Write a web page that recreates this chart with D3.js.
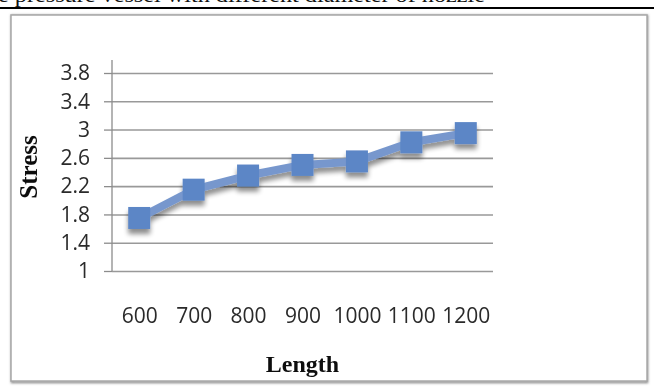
<!DOCTYPE html>
<html>
<head>
<meta charset="utf-8">
<script src="https://cdn.jsdelivr.net/npm/d3@7"></script>
<style>
  html, body { margin: 0; padding: 0; background: #fff; }
  svg { display: block; }
</style>
</head>
<body>
<svg id="chart" width="654" height="391"></svg>
<script>
// Stress against nozzle length
const lengths = ["600", "700", "800", "900", "1000", "1100", "1200"];
const stress = [1.75, 2.15, 2.35, 2.5, 2.55, 2.82, 2.95];
const yTicks = [1, 1.4, 1.8, 2.2, 2.6, 3, 3.4, 3.8];
const caption = "e pressure vessel with different diameter of nozzle";

const svg = d3.select("#chart");
const defs = svg.append("defs");

const shadow = defs.append("filter").attr("id", "markShadow")
  .attr("x", "-50%").attr("y", "-50%").attr("width", "200%").attr("height", "220%");
shadow.append("feGaussianBlur").attr("in", "SourceAlpha").attr("stdDeviation", 2.4).attr("result", "b");
shadow.append("feOffset").attr("in", "b").attr("dx", 0).attr("dy", 5).attr("result", "o");
shadow.append("feComponentTransfer").attr("in", "o").attr("result", "s")
  .append("feFuncA").attr("type", "linear").attr("slope", 0.45);
const m = shadow.append("feMerge");
m.append("feMergeNode").attr("in", "s");
m.append("feMergeNode").attr("in", "SourceGraphic");

const soft = defs.append("filter").attr("id", "soft");
soft.append("feGaussianBlur").attr("stdDeviation", 0.7);

const textSoft = defs.append("filter").attr("id", "textSoft");
textSoft.append("feGaussianBlur").attr("stdDeviation", 0.35);

const boxShadow = defs.append("filter").attr("id", "boxShadow")
  .attr("x", "-5%").attr("y", "-5%").attr("width", "110%").attr("height", "110%");
boxShadow.append("feGaussianBlur").attr("stdDeviation", 1.2);

// caption line cut at the top, and the rule below it
svg.append("text")
  .attr("x", -2).attr("y", 1.5)
  .attr("font-family", "Liberation Serif, serif")
  .attr("font-size", 20)
  .attr("textLength", 487)
  .attr("lengthAdjust", "spacingAndGlyphs")
  .attr("fill", "#111")
  .text(caption);
svg.append("rect").attr("x", 0).attr("y", 7).attr("width", 654).attr("height", 2).attr("fill", "#000");

// chart frame
svg.append("rect")
  .attr("x", 12).attr("y", 16).attr("width", 635).attr("height", 366)
  .attr("fill", "none").attr("stroke", "#8a8a8a").attr("stroke-width", 2.5)
  .attr("filter", "url(#boxShadow)");
svg.append("rect")
  .attr("x", 11).attr("y", 15).attr("width", 636).attr("height", 366)
  .attr("fill", "#fff").attr("stroke", "#a8a8a8").attr("stroke-width", 1.5);

const plotL = 112, plotR = 493, plotT = 73, plotB = 271;

const x = d3.scalePoint().domain(lengths).range([plotL, plotR]).padding(0.5);
const y = d3.scaleLinear().domain([1, 3.8]).range([plotB, plotT]);

// horizontal gridlines with outside ticks
const yAxis = svg.append("g")
  .attr("transform", `translate(${plotL},0)`)
  .call(d3.axisLeft(y).tickValues(yTicks).tickSize(8).tickPadding(14)
    .tickFormat(d => String(d)));
yAxis.select(".domain").remove();
yAxis.selectAll(".tick line").attr("stroke", "#8c8c8c").attr("stroke-width", 1.3);
yAxis.selectAll(".tick").append("line")
  .attr("x1", 0).attr("x2", plotR - plotL)
  .attr("stroke", "#999").attr("stroke-width", 1.6);
yAxis.selectAll(".tick text")
  .attr("font-family", "Open Sans, sans-serif")
  .attr("font-size", 21).attr("fill", "#2a2a2a")
  .attr("filter", "url(#textSoft)");

// vertical axis line
svg.append("line")
  .attr("x1", plotL).attr("x2", plotL).attr("y1", 60).attr("y2", plotB)
  .attr("stroke", "#8c8c8c").attr("stroke-width", 1.3);

// category labels
const xAxis = svg.append("g")
  .attr("transform", `translate(0,${plotB})`)
  .call(d3.axisBottom(x).tickSize(0).tickPadding(37));
xAxis.select(".domain").remove();
xAxis.selectAll(".tick text")
  .attr("font-family", "Open Sans, sans-serif")
  .attr("font-size", 21).attr("fill", "#2a2a2a")
  .attr("filter", "url(#textSoft)");

// axis titles
svg.append("text")
  .attr("transform", `translate(37,167) rotate(-90)`)
  .attr("text-anchor", "middle")
  .attr("font-family", "Liberation Serif, serif")
  .attr("font-weight", "bold").attr("font-size", 25).attr("fill", "#111")
  .attr("filter", "url(#textSoft)")
  .text("Stress");
svg.append("text")
  .attr("x", (plotL + plotR) / 2).attr("y", 372)
  .attr("text-anchor", "middle")
  .attr("font-family", "Liberation Serif, serif")
  .attr("font-weight", "bold").attr("font-size", 24).attr("fill", "#111")
  .attr("filter", "url(#textSoft)")
  .text("Length");

// series line and markers
const pts = lengths.map((c, i) => [x(c), y(stress[i])]);
const plot = svg.append("g").attr("filter", "url(#markShadow)");
plot.append("path")
  .attr("d", d3.line()(pts))
  .attr("fill", "none")
  .attr("stroke", "#7797cd").attr("stroke-width", 8)
  .attr("stroke-linejoin", "round")
  .attr("filter", "url(#soft)");
const size = 22;
plot.selectAll("rect.mk").data(pts).join("rect")
  .attr("class", "mk")
  .attr("x", d => d[0] - size / 2).attr("y", d => d[1] - size / 2)
  .attr("width", size).attr("height", size)
  .attr("fill", "#5c86c6")
  .attr("filter", "url(#soft)");
</script>
</body>
</html>
